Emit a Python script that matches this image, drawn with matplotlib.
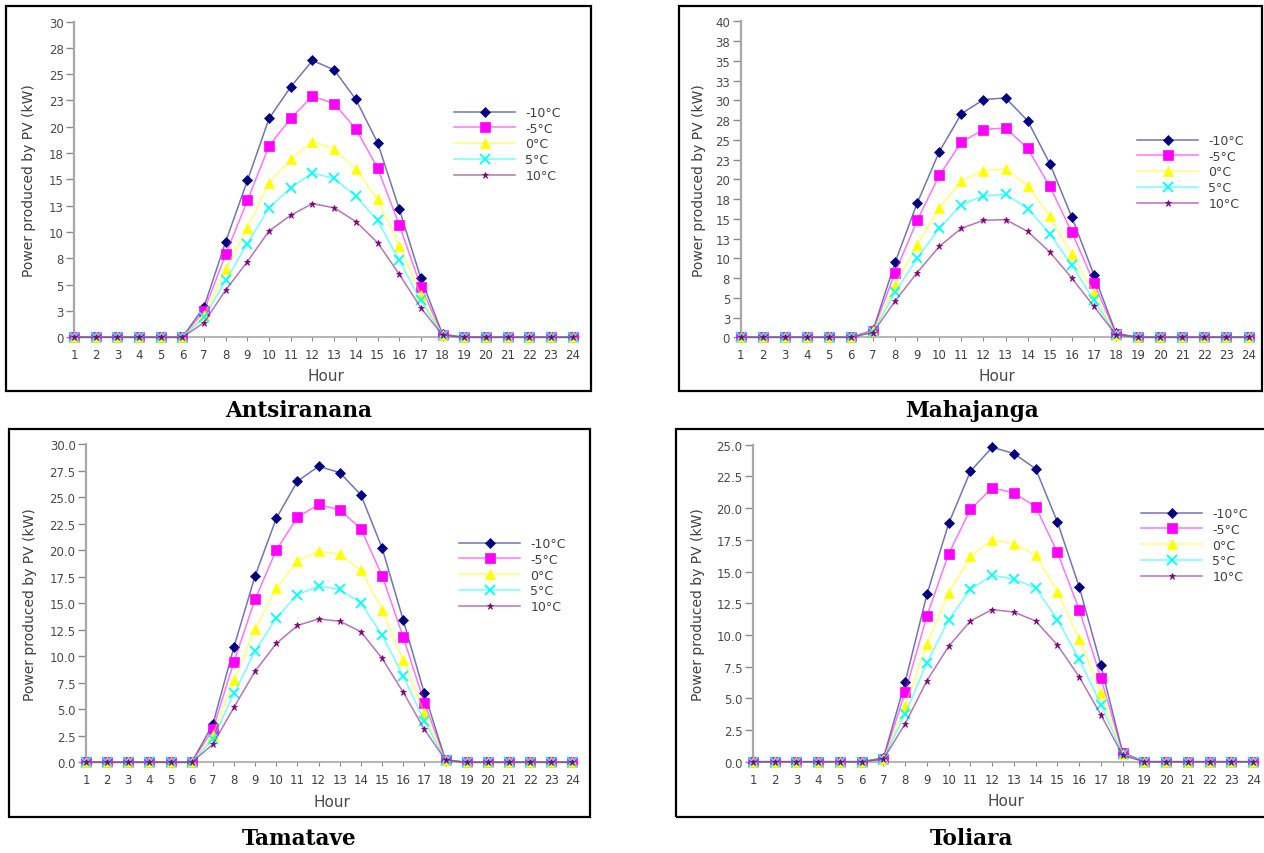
# plot.py

import numpy as np
import matplotlib
matplotlib.use("Agg")
import matplotlib.pyplot as plt
from matplotlib.patches import Rectangle

# ==========================================================
# DATA
# ==========================================================

hours = list(range(1, 25))

temp_labels = ["-10°C", "-5°C", "0°C", "5°C", "10°C"]

antsiranana_m10 = [0, 0, 0, 0, 0, 0, 2.9, 9.1, 14.9, 20.8, 23.8, 26.3, 25.4, 22.6, 18.5, 12.2, 5.6, 0.3, 0, 0, 0, 0, 0, 0]
antsiranana_m5 = [0, 0, 0, 0, 0, 0, 2.5, 7.9, 13.0, 18.2, 20.8, 22.9, 22.2, 19.8, 16.1, 10.7, 4.8, 0.2, 0, 0, 0, 0, 0, 0]
antsiranana_0 = [0, 0, 0, 0, 0, 0, 2.1, 6.5, 10.4, 14.7, 16.9, 18.6, 17.9, 16.0, 13.1, 8.7, 4.0, 0.2, 0, 0, 0, 0, 0, 0]
antsiranana_5 = [0, 0, 0, 0, 0, 0, 1.9, 5.4, 8.9, 12.3, 14.2, 15.6, 15.1, 13.4, 11.1, 7.3, 3.5, 0.2, 0, 0, 0, 0, 0, 0]
antsiranana_10 = [0, 0, 0, 0, 0, 0, 1.4, 4.5, 7.2, 10.1, 11.6, 12.7, 12.3, 11.0, 9.0, 6.0, 2.8, 0.2, 0, 0, 0, 0, 0, 0]

mahajanga_m10 = [0, 0, 0, 0, 0, 0, 0.9, 9.5, 17.0, 23.5, 28.3, 30.1, 30.3, 27.4, 22.0, 15.2, 7.9, 0.5, 0, 0, 0, 0, 0, 0]
mahajanga_m5 = [0, 0, 0, 0, 0, 0, 0.8, 8.2, 14.8, 20.5, 24.7, 26.3, 26.5, 23.9, 19.1, 13.3, 6.9, 0.4, 0, 0, 0, 0, 0, 0]
mahajanga_0 = [0, 0, 0, 0, 0, 0, 0.8, 6.6, 11.7, 16.4, 19.8, 21.1, 21.3, 19.2, 15.3, 10.5, 5.6, 0.3, 0, 0, 0, 0, 0, 0]
mahajanga_5 = [0, 0, 0, 0, 0, 0, 0.7, 5.7, 10.0, 13.8, 16.8, 17.9, 18.1, 16.3, 13.1, 9.1, 4.7, 0.3, 0, 0, 0, 0, 0, 0]
mahajanga_10 = [0, 0, 0, 0, 0, 0, 0.6, 4.6, 8.2, 11.5, 13.8, 14.8, 14.9, 13.4, 10.8, 7.5, 3.9, 0.3, 0, 0, 0, 0, 0, 0]

tamatave_m10 = [0, 0, 0, 0, 0, 0, 3.6, 10.9, 17.6, 23.0, 26.5, 27.9, 27.3, 25.2, 20.2, 13.4, 6.5, 0.2, 0, 0, 0, 0, 0, 0]
tamatave_m5 = [0, 0, 0, 0, 0, 0, 3.1, 9.5, 15.4, 20.0, 23.1, 24.3, 23.8, 22.0, 17.6, 11.8, 5.6, 0.2, 0, 0, 0, 0, 0, 0]
tamatave_0 = [0, 0, 0, 0, 0, 0, 2.6, 7.8, 12.6, 16.4, 19.0, 19.9, 19.6, 18.1, 14.4, 9.6, 4.6, 0.2, 0, 0, 0, 0, 0, 0]
tamatave_5 = [0, 0, 0, 0, 0, 0, 2.2, 6.5, 10.5, 13.6, 15.8, 16.6, 16.3, 15.0, 12.0, 8.1, 3.9, 0.2, 0, 0, 0, 0, 0, 0]
tamatave_10 = [0, 0, 0, 0, 0, 0, 1.7, 5.2, 8.6, 11.2, 12.9, 13.5, 13.3, 12.3, 9.8, 6.6, 3.1, 0.2, 0, 0, 0, 0, 0, 0]

toliara_m10 = [0, 0, 0, 0, 0, 0, 0.3, 6.3, 13.2, 18.8, 22.9, 24.8, 24.3, 23.1, 18.9, 13.8, 7.6, 0.7, 0, 0, 0, 0, 0, 0]
toliara_m5 = [0, 0, 0, 0, 0, 0, 0.2, 5.5, 11.5, 16.4, 19.9, 21.6, 21.2, 20.1, 16.5, 12.0, 6.6, 0.7, 0, 0, 0, 0, 0, 0]
toliara_0 = [0, 0, 0, 0, 0, 0, 0.2, 4.4, 9.3, 13.3, 16.2, 17.5, 17.2, 16.3, 13.4, 9.7, 5.4, 0.6, 0, 0, 0, 0, 0, 0]
toliara_5 = [0, 0, 0, 0, 0, 0, 0.2, 3.8, 7.8, 11.2, 13.6, 14.7, 14.4, 13.7, 11.2, 8.1, 4.5, 0.6, 0, 0, 0, 0, 0, 0]
toliara_10 = [0, 0, 0, 0, 0, 0, 0.2, 3.0, 6.4, 9.1, 11.1, 12.0, 11.8, 11.1, 9.2, 6.7, 3.7, 0.5, 0, 0, 0, 0, 0, 0]

antsiranana_yticklabels = ["0", "3", "5", "8", "10", "13", "15", "18", "20", "23", "25", "28", "30"]
mahajanga_yticklabels = ["0", "3", "5", "8", "10", "13", "15", "18", "20", "23", "25", "28",
                         "30", "33", "35", "38", "40"]
tamatave_yticklabels = ["0.0", "2.5", "5.0", "7.5", "10.0", "12.5", "15.0", "17.5", "20.0",
                        "22.5", "25.0", "27.5", "30.0"]
toliara_yticklabels = ["0.0", "2.5", "5.0", "7.5", "10.0", "12.5", "15.0", "17.5", "20.0",
                       "22.5", "25.0"]

# ==========================================================
# STYLE
# ==========================================================

W, H = 1264, 854

series_colors = ["#000080", "#FF00FF", "#FFFF00", "#00FFFF", "#800080"]
series_markers = ["D", "s", "^", "x", "*"]
series_msize = [5.5, 6.5, 6.5, 6.5, 5]

plt.rcParams["font.family"] = ["DejaVu Sans"]


def px_rect(left, top, right, bottom):
    return [left / W, 1 - bottom / H, (right - left) / W, (bottom - top) / H]


# ==========================================================
# ONE PANEL
# ==========================================================

def draw_panel(
        fig,
        series,
        yticklabels,
        ymax,
        axes_px,
        xmax,
        frame_px,
        ylabel_x,
        legend_px,
        caption,
        caption_px):

    ax = fig.add_axes(px_rect(*axes_px))

    handles = []

    for values, color, marker, ms in zip(series, series_colors, series_markers, series_msize):

        line, = ax.plot(
            hours,
            values,
            color=matplotlib.colors.to_rgba(color, 0.55),
            linewidth=1.1,
            marker=marker,
            markersize=ms,
            markeredgewidth=1.3 if marker == "x" else 0.5,
            markeredgecolor=color,
            markerfacecolor=color,
            clip_on=False,
            zorder=3
        )

        handles.append(line)

    ax.set_xlim(1, xmax)
    ax.set_ylim(0, ymax)

    ax.set_xticks(hours)
    ax.set_xticklabels([str(h) for h in hours])

    yticks = np.arange(0, ymax + 0.1, 2.5)
    ax.set_yticks(yticks)
    ax.set_yticklabels(yticklabels)

    for side in ["top", "right"]:
        ax.spines[side].set_visible(False)

    ax.spines["left"].set_color("#a8a8a8")
    ax.spines["left"].set_linewidth(1.6)
    ax.spines["bottom"].set_color("#a8a8a8")
    ax.spines["bottom"].set_linewidth(1.2)

    ax.tick_params(
        axis="y",
        direction="out",
        length=6,
        width=1.0,
        color="#8a8a8a",
        pad=1.5,
        labelsize=8.5,
        labelcolor="#4a4a4a"
    )

    ax.tick_params(
        axis="x",
        direction="out",
        length=3,
        width=0.8,
        color="#8a8a8a",
        pad=5,
        labelsize=8.5,
        labelcolor="#404040"
    )

    ax.set_xlabel("Hour", fontsize=11, color="#4a4a4a")
    ax.xaxis.set_label_coords(0.5, -0.122)
    ax.xaxis.label.set_verticalalignment("center")

    ax.set_ylabel("Power produced by PV (kW)", fontsize=10, color="#404040")
    ax.yaxis.set_label_coords(ylabel_x, 0.5)
    ax.yaxis.label.set_verticalalignment("center")

    ax.legend(
        handles,
        temp_labels,
        loc="upper left",
        bbox_to_anchor=(legend_px[0] / W, 1 - legend_px[1] / H),
        bbox_transform=fig.transFigure,
        frameon=False,
        fontsize=9,
        labelcolor="#404040",
        numpoints=1,
        handlelength=4.9,
        handletextpad=0.8,
        labelspacing=0.22,
        borderpad=0,
        borderaxespad=0
    )

    fx0, fy0, fx1, fy1 = frame_px

    fig.patches.append(
        Rectangle(
            (fx0 / W, 1 - fy1 / H),
            (fx1 - fx0) / W,
            (fy1 - fy0) / H,
            transform=fig.transFigure,
            fill=False,
            edgecolor="black",
            linewidth=1.6
        )
    )

    fig.text(
        caption_px[0] / W,
        1 - caption_px[1] / H,
        caption,
        ha="center",
        va="center",
        fontsize=15.5,
        fontweight="bold",
        family="DejaVu Serif"
    )

    return ax


# ==========================================================
# FIGURE
# ==========================================================

fig = plt.figure(
    figsize=(W / 100, H / 100),
    dpi=100
)

draw_panel(
    fig,
    [antsiranana_m10, antsiranana_m5, antsiranana_0, antsiranana_5, antsiranana_10],
    antsiranana_yticklabels,
    30,
    (74, 22.5, 578.5, 338.3),
    24.27,
    (6, 7, 591, 392.3),
    -0.09,
    (454, 107),
    "Antsiranana",
    (299, 411)
)

draw_panel(
    fig,
    [mahajanga_m10, mahajanga_m5, mahajanga_0, mahajanga_5, mahajanga_10],
    mahajanga_yticklabels,
    40,
    (740.5, 22.3, 1253, 338.3),
    24.2,
    (679, 7, 1262, 392.3),
    -0.08,
    (1137, 135),
    "Mahajanga",
    (972, 411)
)

draw_panel(
    fig,
    [tamatave_m10, tamatave_m5, tamatave_0, tamatave_5, tamatave_10],
    tamatave_yticklabels,
    30,
    (86, 445, 577.3, 763.3),
    24.23,
    (9, 430, 589.6, 818.3),
    -0.113,
    (459, 538),
    "Tamatave",
    (299, 839)
)

draw_panel(
    fig,
    [toliara_m10, toliara_m5, toliara_0, toliara_5, toliara_10],
    toliara_yticklabels,
    25,
    (753, 445.7, 1259, 762.7),
    24.27,
    (676, 430, 1268, 818.3),
    -0.109,
    (1141, 508),
    "Toliara",
    (972, 839)
)

plt.savefig("out.png", dpi=100)
